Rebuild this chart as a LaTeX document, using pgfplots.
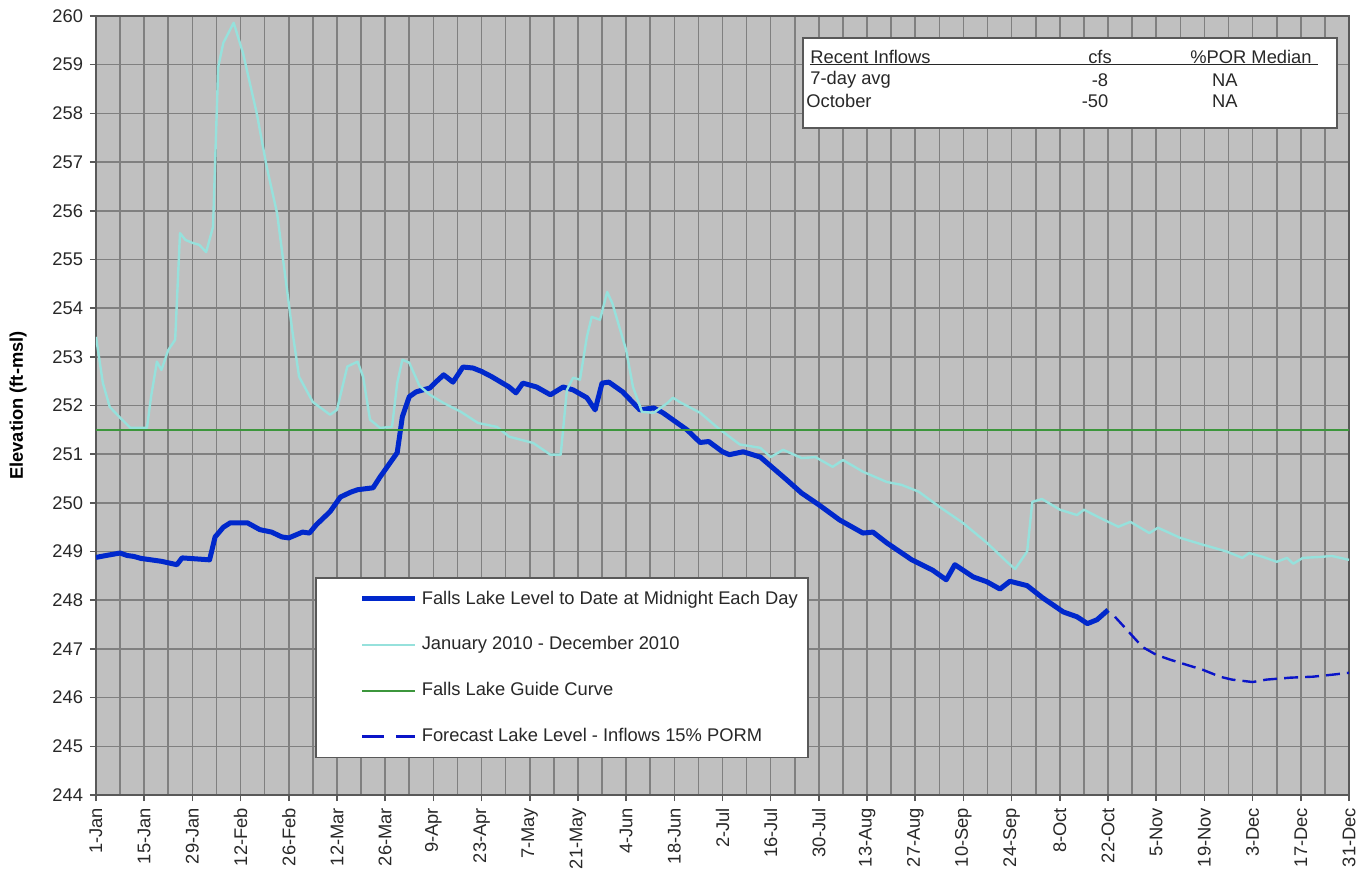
\documentclass[border=0pt]{standalone}
\usepackage{pgfplots}
\pgfplotsset{compat=1.18}
\usepackage{fontspec}
\setmainfont{Liberation Sans}
\definecolor{bgg}{RGB}{192,192,192}
\definecolor{gridc}{RGB}{128,128,128}
\definecolor{lvl}{RGB}{0,40,204}
\definecolor{y2010}{RGB}{150,225,220}
\definecolor{guide}{RGB}{60,150,60}
\definecolor{fc}{RGB}{10,20,200}
\definecolor{txt}{RGB}{40,40,40}
\newcommand{\ff}{\fontsize{9.2}{11}\selectfont}
\begin{document}
\begin{tikzpicture}
\begin{axis}[
  scale only axis, width=626.5bp, height=389.5bp,
  xmin=1, xmax=365, ymin=244, ymax=260,
  axis background/.style={fill=bgg},
  xtick={1,15,...,365}, minor xtick={8,22,...,358},
  xticklabels={1-Jan,15-Jan,29-Jan,12-Feb,26-Feb,12-Mar,26-Mar,9-Apr,23-Apr,7-May,21-May,4-Jun,18-Jun,2-Jul,16-Jul,30-Jul,13-Aug,27-Aug,10-Sep,24-Sep,8-Oct,22-Oct,5-Nov,19-Nov,3-Dec,17-Dec,31-Dec},
  ytick={244,245,...,260},
  grid=both,
  major grid style={draw=gridc, line width=0.8bp},
  minor grid style={draw=gridc, line width=0.8bp},
  tick align=outside, major tick length=3bp, minor tick length=0pt,
  xtick pos=bottom, ytick pos=left,
  axis line style={draw=black!65, line width=0.9bp},
  tick style={draw=black!65, line width=0.8bp},
  tick label style={font=\ff, text=txt},
  xticklabel style={rotate=90, anchor=east},
  /pgf/number format/assume math mode=true,
  ylabel={\bfseries Elevation (ft-msl)},
  ylabel style={at={(axis description cs:-0.0622,0.5)}, anchor=center, font=\ff, text=black},
  legend style={at={(rel axis cs:0.1748,0.2798)}, anchor=north west, draw=black!65, line width=0.8bp, fill=white, font=\ff, text=txt, row sep=10.8bp, inner xsep=3bp, inner ysep=4.5bp},
  legend cell align=left,
  legend image code/.code={\path (-19bp,0bp); \draw[#1] (0bp,0bp) -- (26.5bp,0bp);},
]
\addplot[lvl, line width=2.5bp, line join=round] coordinates {
(1,248.88)(4,248.92)(8,248.97)(10,248.92)(12,248.90)(14,248.86)(17,248.83)(20,248.80)(24.5,248.73)(26,248.87)(30,248.85)(34,248.83)(35.6,249.30)(38,249.50)(40,249.59)(45,249.59)(48.6,249.45)(52,249.40)(55,249.30)(57,249.28)(61,249.40)(63,249.38)(65,249.55)(69,249.82)(72,250.12)(75,250.22)(77,250.27)(81.5,250.31)(83.5,250.53)(87,250.88)(88.5,251.03)(90,251.77)(92,252.18)(94,252.28)(96,252.32)(98,252.36)(100,252.50)(102,252.63)(104.7,252.48)(107.6,252.79)(110.5,252.77)(113,252.70)(116,252.59)(121,252.38)(123,252.26)(125,252.46)(129,252.38)(133,252.22)(136.7,252.38)(139.6,252.32)(143.6,252.16)(146,251.91)(148,252.46)(150,252.48)(154,252.28)(159,251.91)(163,251.95)(165.7,251.85)(172.7,251.50)(176.5,251.24)(179,251.26)(183,251.05)(185,250.99)(189,251.05)(194,250.94)(201.7,250.47)(206,250.20)(211,249.96)(217,249.65)(223.8,249.38)(226.7,249.40)(230.7,249.18)(238,248.83)(244,248.62)(248,248.42)(250.5,248.73)(255.8,248.48)(259.8,248.38)(263.6,248.23)(266.5,248.39)(271.5,248.30)(276,248.05)(282,247.76)(286,247.66)(289,247.52)(291.8,247.60)(295,247.80)
};
\addlegendentry{Falls Lake Level to Date at Midnight Each Day}
\addplot[y2010, line width=1.2bp, line join=round] coordinates {
(1,253.41)(3,252.46)(5,251.97)(8,251.75)(11,251.54)(15.8,251.54)(17,252.18)(18.7,252.90)(20,252.73)(22,253.14)(24,253.35)(25.4,255.54)(27,255.40)(29,255.34)(31,255.30)(33,255.15)(35,255.67)(36.5,258.95)(38,259.45)(41,259.86)(43.7,259.24)(47.7,258.00)(50.6,256.90)(53.6,255.95)(57,254.10)(58,253.55)(60,252.59)(64,252.07)(69,251.81)(71,251.91)(74,252.80)(77,252.90)(78.6,252.59)(80.6,251.71)(83.5,251.54)(87,251.56)(88.5,252.46)(90,252.94)(92,252.88)(95,252.40)(98,252.22)(102,252.05)(107,251.87)(112,251.64)(117.5,251.56)(121,251.36)(128,251.23)(133,250.99)(136,250.99)(137.8,252.32)(139.6,252.57)(141.6,252.53)(143.6,253.41)(145,253.82)(147.4,253.76)(149.5,254.33)(151,254.10)(155,253.14)(157,252.38)(159.6,251.87)(163,251.85)(167,252.05)(168.6,252.16)(170.6,252.07)(176.5,251.85)(182,251.52)(188,251.20)(194,251.13)(197,250.94)(200.6,251.09)(206,250.92)(210,250.94)(215,250.74)(218,250.88)(223.8,250.64)(230.7,250.43)(235,250.37)(240,250.23)(246,249.92)(252.8,249.59)(259.8,249.18)(265.6,248.79)(268,248.64)(271.5,249.00)(273,250.02)(275.8,250.08)(281,249.86)(286,249.75)(288,249.86)(292.7,249.69)(298,249.51)(301.5,249.61)(307,249.38)(309.5,249.49)(316,249.28)(322.6,249.14)(329.5,249.00)(334,248.87)(336,248.97)(340,248.89)(344,248.79)(347,248.87)(348.8,248.75)(351.6,248.87)(356.7,248.89)(360,248.91)(365,248.83)
};
\addlegendentry{January 2010 - December 2010}
\addplot[guide, line width=1.1bp] coordinates {(1,251.5)(365,251.5)};
\addlegendentry{Falls Lake Guide Curve}
\addplot[fc, line width=1.2bp, dash pattern=on 7bp off 3.5bp, legend image post style={dash pattern=on 11bp off 6bp}] coordinates {
(297,247.66)(300.5,247.39)(305,247.04)(309,246.88)(313,246.78)(318,246.67)(322.6,246.57)(327.5,246.43)(331,246.37)(337,246.32)(341,246.37)(348,246.41)(354.5,246.43)(360,246.47)(365,246.51)
};
\addlegendentry{Forecast Lake Level - Inflows 15\% PORM}
\draw[fill=white, draw=black!65, line width=0.8bp] (rel axis cs:0.5642,0.9718) rectangle (rel axis cs:0.9904,0.8562);
\node[anchor=west, font=\ff, text=txt, inner sep=0pt] at (rel axis cs:0.5698,0.9474) {Recent Inflows};
\node[font=\ff, text=txt, inner sep=0pt] at (rel axis cs:0.8013,0.9474) {cfs};
\node[font=\ff, text=txt, inner sep=0pt] at (rel axis cs:0.9218,0.9474) {\%POR Median};
\draw[txt, line width=0.7bp] (rel axis cs:0.5698,0.9379) -- (rel axis cs:0.9753,0.9379);
\node[anchor=west, font=\ff, text=txt, inner sep=0pt] at (rel axis cs:0.5698,0.9178) {7-day avg};
\node[font=\ff, text=txt, inner sep=0pt] at (rel axis cs:0.8013,0.9178) {-8};
\node[font=\ff, text=txt, inner sep=0pt] at (rel axis cs:0.9010,0.9178) {NA};
\node[anchor=west, font=\ff, text=txt, inner sep=0pt] at (rel axis cs:0.5666,0.8909) {October};
\node[font=\ff, text=txt, inner sep=0pt] at (rel axis cs:0.7973,0.8909) {-50};
\node[font=\ff, text=txt, inner sep=0pt] at (rel axis cs:0.9010,0.8909) {NA};
\end{axis}
\pgfresetboundingbox
\path[use as bounding box] (-48bp,-39bp) rectangle (632.5bp,397.5bp);
\end{tikzpicture}
\end{document}
